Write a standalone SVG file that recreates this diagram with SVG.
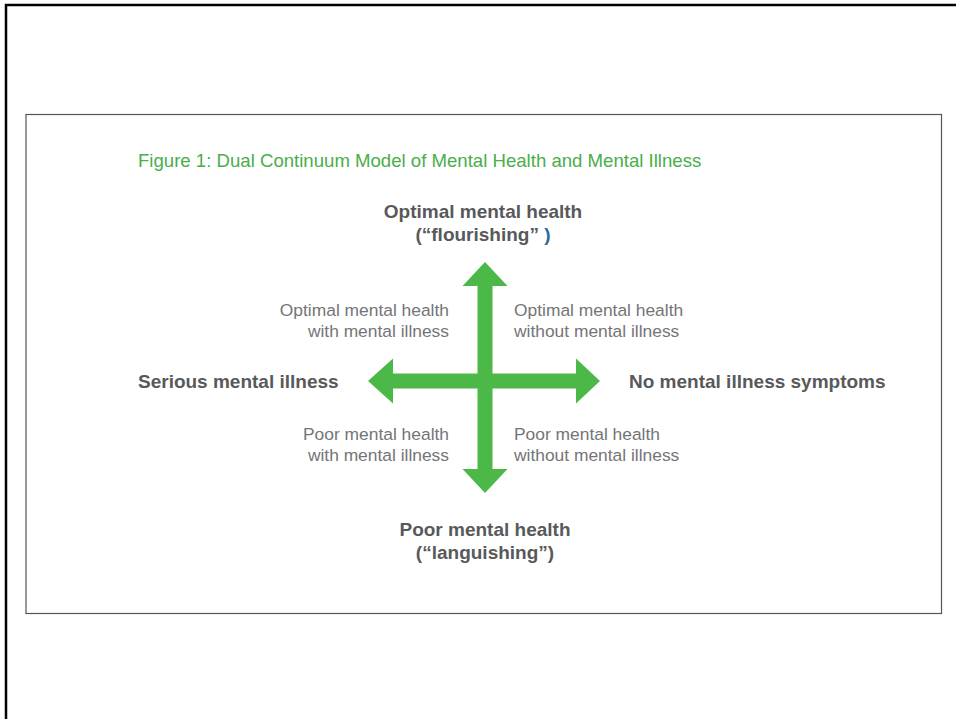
<svg xmlns="http://www.w3.org/2000/svg" width="956" height="719" viewBox="0 0 956 719">
<style>
  .title { font-family: "Liberation Sans", Arial, sans-serif; font-size: 18.6px; fill: #4aae4a; }
  .pole { font-family: "Liberation Sans", Arial, sans-serif; font-size: 19px; font-weight: bold; fill: #58595b; }
  .quad { font-family: "Liberation Sans", Arial, sans-serif; font-size: 17.4px; fill: #747577; }
  .arrow { fill: #4cb848; }
</style>
<rect x="0" y="0" width="956" height="719" fill="#ffffff"/>
<path d="M6,719 V5 H956" fill="none" stroke="#000000" stroke-width="2.5"/>
<rect id="frame" x="26" y="114.5" width="915.5" height="499" fill="none" stroke="#555555" stroke-width="1.2"/>
<g id="title">
  <text class="title" x="138" y="167">Figure 1: Dual Continuum Model of Mental Health and Mental Illness</text>
</g>
<g id="connectors">
  <polygon class="arrow" points="485,262 507.5,286 492.5,286 492.5,469 507.5,469 485,493 462.5,469 477.5,469 477.5,286 462.5,286"/>
  <polygon class="arrow" points="368,381 393,358.5 393,373.5 576,373.5 576,358.5 600,381 576,403.5 576,388.5 393,388.5 393,403.5"/>
</g>
<g id="top-pole">
  <text class="pole" x="483" y="218" text-anchor="middle">Optimal mental health</text>
  <text class="pole" x="483" y="241" text-anchor="middle">(“flourishing” <tspan fill="#2a6a98">)</tspan></text>
</g>
<g id="bottom-pole">
  <text class="pole" x="485" y="536" text-anchor="middle">Poor mental health</text>
  <text class="pole" x="485" y="559" text-anchor="middle">(“languishing”)</text>
</g>
<g id="left-pole">
  <text class="pole" x="138" y="388">Serious mental illness</text>
</g>
<g id="right-pole">
  <text class="pole" x="629" y="388">No mental illness symptoms</text>
</g>
<g id="quad-top-left">
  <text class="quad" x="449" y="316" text-anchor="end">Optimal mental health</text>
  <text class="quad" x="449" y="337" text-anchor="end">with mental illness</text>
</g>
<g id="quad-top-right">
  <text class="quad" x="514" y="316">Optimal mental health</text>
  <text class="quad" x="514" y="337">without mental illness</text>
</g>
<g id="quad-bottom-left">
  <text class="quad" x="449" y="440" text-anchor="end">Poor mental health</text>
  <text class="quad" x="449" y="461" text-anchor="end">with mental illness</text>
</g>
<g id="quad-bottom-right">
  <text class="quad" x="514" y="440">Poor mental health</text>
  <text class="quad" x="514" y="461">without mental illness</text>
</g>
</svg>
